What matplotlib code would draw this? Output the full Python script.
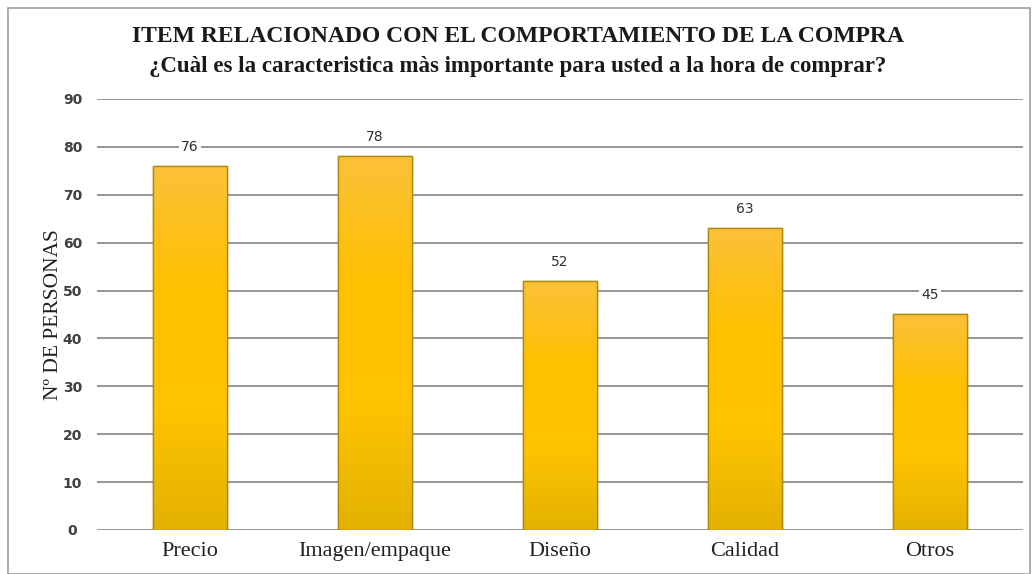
import matplotlib
matplotlib.use("Agg")
import matplotlib.pyplot as plt
import numpy as np
from matplotlib.colors import LinearSegmentedColormap
from matplotlib.patches import Rectangle

categories = ["Precio", "Imagen/empaque", "Diseño", "Calidad", "Otros"]
values = [76, 78, 52, 63, 45]
y_ticks = [0, 10, 20, 30, 40, 50, 60, 70, 80, 90]

title = "ITEM RELACIONADO CON EL COMPORTAMIENTO DE LA COMPRA"
subtitle = "¿Cuàl es la caracteristica màs importante para usted a la hora de comprar?"
y_label = "Nº DE PERSONAS"

fig = plt.figure(figsize=(10.36, 5.74), dpi=100)
ax = fig.add_axes([0.0941, 0.0767, 0.8929, 0.7509])

# outer chart frame
fig.patches.append(Rectangle((8 / 1036, 0), 1 - 14 / 1036, 1 - 8 / 574,
                             transform=fig.transFigure, fill=False,
                             edgecolor="#a0a0a0", lw=1.2))

x = np.arange(len(categories))
bars = ax.bar(x, values, width=0.4, color="#ffc000",
              edgecolor="#b08a10", linewidth=1.0, zorder=2)

# vertical gradient inside each bar
grad = LinearSegmentedColormap.from_list(
    "gold", ["#e3b100", "#ffc400", "#ffc000", "#fbc13a"])
for b in bars:
    x0, y0 = b.get_x(), b.get_y()
    w, h = b.get_width(), b.get_height()
    im = ax.imshow(np.linspace(0, 1, 256).reshape(-1, 1), cmap=grad,
                   origin="lower", aspect="auto",
                   extent=(x0, x0 + w, y0, y0 + h), zorder=2.1)
    im.set_clip_path(b)
    ax.add_patch(Rectangle((x0, y0), w, h, fill=False,
                           edgecolor="#b08a10", lw=1.0, zorder=2.2))

for xi, v in zip(x, values):
    ax.text(xi, v + 4, str(v), ha="center", va="center", fontsize=10,
            family="DejaVu Sans", color="#303030", zorder=3,
            bbox=dict(boxstyle="square,pad=0.15", fc="white", ec="none"))

ax.set_xlim(-0.5, len(categories) - 0.5)
ax.set_ylim(0, 90)
ax.set_yticks(y_ticks)
ax.yaxis.grid(True, color="#8c8c8c", lw=1.3, zorder=0)
ax.set_axisbelow(True)
for s in ax.spines.values():
    s.set_visible(False)
ax.tick_params(axis="both", length=0)
ax.tick_params(axis="y", pad=18, labelsize=10, labelcolor="#404040")
ax.tick_params(axis="x", pad=9)
ax.set_xticks(x)
ax.set_xticklabels(categories, family="Liberation Serif", fontsize=16,
                   color="#202020")
for lbl in ax.get_yticklabels():
    lbl.set_fontweight("bold")
    lbl.set_family("DejaVu Sans")
    lbl.set_horizontalalignment("center")

ax.set_ylabel(y_label, family="Liberation Serif", fontsize=15.5,
              color="#202020", labelpad=0)

fig.text(0.5, 0.937, title, ha="center", va="center", family="Liberation Serif",
         fontsize=17, fontweight="bold", color="#1a1a1a")
fig.text(0.5, 0.884, subtitle, ha="center", va="center",
         family="Liberation Serif", fontsize=16.5, fontweight="bold",
         color="#1a1a1a")

fig.savefig("out.png", dpi=100, facecolor="white")
